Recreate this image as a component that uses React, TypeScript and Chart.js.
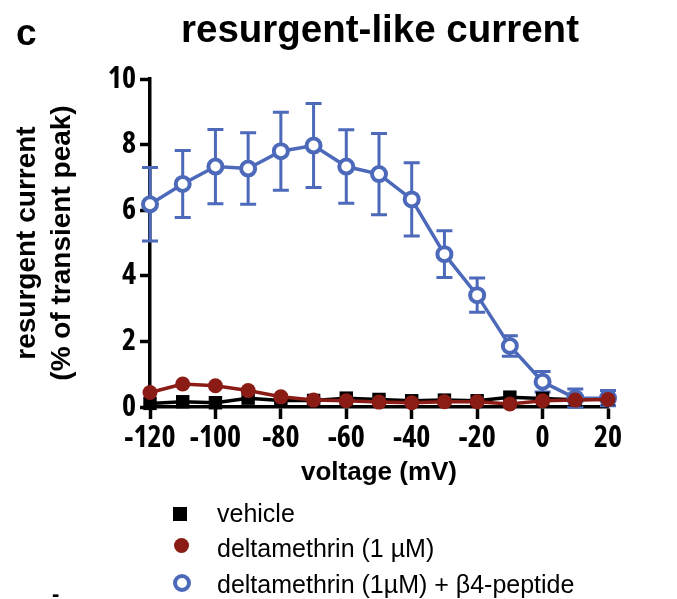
import React, { useEffect, useRef } from 'react';
import Chart from 'chart.js/auto';

const voltages = [-120, -110, -100, -90, -80, -70, -60, -50, -40, -30, -20, -10, 0, 10, 20];
const vehicle = [0.11, 0.16, 0.13, 0.27, 0.2, 0.2, 0.27, 0.23, 0.19, 0.21, 0.19, 0.3, 0.26, 0.22, 0.25];
const deltamethrin = [0.44, 0.7, 0.65, 0.5, 0.31, 0.21, 0.19, 0.15, 0.13, 0.16, 0.16, 0.09, 0.19, 0.21, 0.23];
const deltaB4 = [6.18, 6.8, 7.33, 7.27, 7.8, 7.97, 7.33, 7.1, 6.33, 4.66, 3.41, 1.86, 0.77, 0.27, 0.27];
const deltaB4Err = [1.12, 1.02, 1.13, 1.09, 1.19, 1.28, 1.12, 1.24, 1.12, 0.71, 0.52, 0.31, 0.31, 0.28, 0.23];
const seriesNames = ['vehicle', 'deltamethrin (1 µM)', 'deltamethrin (1µM) + β4-peptide'];
const chartTitle = 'resurgent-like current';
const xTitle = 'voltage (mV)';
const yTitle = ['resurgent current', '(% of transient peak)'];

const BLUE = '#4C69BA';
const RED = '#8A1C15';
const BLACK = '#000000';
const CONDENSED = "'Open Sans', 'Liberation Sans', Arial, sans-serif";
const SANS = "'Liberation Sans', Arial, Helvetica, sans-serif";

const errorBarPlugin = {
  id: 'errorBars',
  beforeDatasetsDraw(chart: any) {
    const ctx = chart.ctx;
    const xs = chart.scales.x;
    const ys = chart.scales.y;
    chart.data.datasets.forEach((ds: any, i: number) => {
      const errs = ds.errors as number[] | undefined;
      if (!errs) return;
      const meta = chart.getDatasetMeta(i);
      if (meta.hidden) return;
      ctx.save();
      ctx.strokeStyle = ds.borderColor;
      ctx.lineWidth = 3;
      ds.data.forEach((pt: any, j: number) => {
        const x = xs.getPixelForValue(pt.x);
        const yTop = ys.getPixelForValue(pt.y + errs[j]);
        const yBot = ys.getPixelForValue(pt.y - errs[j]);
        ctx.beginPath();
        ctx.moveTo(x, yTop);
        ctx.lineTo(x, yBot);
        ctx.moveTo(x - 8, yTop);
        ctx.lineTo(x + 8, yTop);
        ctx.moveTo(x - 8, yBot);
        ctx.lineTo(x + 8, yBot);
        ctx.stroke();
      });
      ctx.restore();
    });
  },
};

export default function App() {
  const canvasRef = useRef<HTMLCanvasElement | null>(null);

  useEffect(() => {
    if (!canvasRef.current) return;
    const toPts = (arr: number[]) => voltages.map((v, i) => ({ x: v, y: arr[i] }));
    const tickFont = { family: CONDENSED, size: 30, weight: 'bold condensed' };
    const chart = new Chart(canvasRef.current, {
      type: 'line',
      data: {
        datasets: [
          {
            label: seriesNames[1],
            data: toPts(deltamethrin),
            borderColor: RED,
            backgroundColor: RED,
            borderWidth: 3.5,
            pointRadius: 7.5,
            pointBorderWidth: 0,
            pointBackgroundColor: RED,
            pointStyle: 'circle',
            clip: false,
            order: 0,
          } as any,
          {
            label: seriesNames[2],
            data: toPts(deltaB4),
            errors: deltaB4Err,
            borderColor: BLUE,
            backgroundColor: '#ffffff',
            borderWidth: 3.5,
            pointRadius: 7,
            pointBorderWidth: 4,
            pointBorderColor: BLUE,
            pointBackgroundColor: '#ffffff',
            pointStyle: 'circle',
            clip: false,
            order: 1,
          } as any,
          {
            label: seriesNames[0],
            data: toPts(vehicle),
            borderColor: BLACK,
            backgroundColor: BLACK,
            borderWidth: 3.5,
            pointRadius: 9.5,
            pointBorderWidth: 0,
            pointBackgroundColor: BLACK,
            pointStyle: 'rect',
            clip: false,
            order: 2,
          } as any,
        ],
      },
      options: {
        responsive: false,
        animation: false,
        devicePixelRatio: 1,
        layout: { padding: { left: 0, top: 79, right: 69, bottom: 111 } },
        plugins: {
          legend: { display: false },
          tooltip: { enabled: false },
          title: { display: false },
        },
        scales: {
          x: {
            type: 'linear',
            min: -120,
            max: 20,
            afterFit: (s: any) => {
              s.height = 81;
            },
            ticks: { stepSize: 20, color: BLACK, font: tickFont, padding: 1, maxRotation: 0, autoSkip: false },
            grid: { drawOnChartArea: false, tickLength: 12, tickWidth: 3.5, tickColor: BLACK },
            border: { width: 3.5, color: BLACK },
            title: {
              display: true,
              text: xTitle,
              color: BLACK,
              font: { family: SANS, size: 26, weight: 'bold' },
              padding: { top: 0, bottom: 0 },
            },
          },
          y: {
            type: 'linear',
            min: 0,
            max: 10,
            afterFit: (s: any) => {
              s.width = 150;
            },
            ticks: { stepSize: 2, color: BLACK, font: tickFont, padding: 4 },
            grid: { drawOnChartArea: false, tickLength: 10, tickWidth: 3.5, tickColor: BLACK },
            border: { width: 3.5, color: BLACK },
            title: {
              display: true,
              text: yTitle,
              color: BLACK,
              font: { family: SANS, size: 28, weight: 'bold', lineHeight: 1.25 },
              padding: { top: 9.5, bottom: 0 },
            },
          },
        },
      } as any,
      plugins: [errorBarPlugin],
    });
    return () => chart.destroy();
  }, []);

  const legendText: React.CSSProperties = {
    position: 'absolute',
    left: 217,
    fontFamily: SANS,
    fontSize: 25,
    lineHeight: '25px',
    color: '#000',
    whiteSpace: 'nowrap',
  };

  return (
    <div style={{ position: 'fixed', left: 0, top: 0, width: 677, height: 599, background: '#fff', overflow: 'hidden' }}>
      <canvas ref={canvasRef} width={677} height={599} style={{ position: 'absolute', left: 0, top: 0, display: 'block' }} />
      <div style={{ position: 'absolute', left: 16, top: 14, fontFamily: SANS, fontWeight: 'bold', fontSize: 37, lineHeight: '37px', color: '#000' }}>c</div>
      <div style={{ position: 'absolute', left: 181, top: 9.5, fontFamily: SANS, fontWeight: 'bold', fontSize: 38.5, lineHeight: '38.5px', color: '#000', whiteSpace: 'nowrap' }}>
        {chartTitle}
      </div>
      <div style={{ position: 'absolute', left: 173, top: 507, width: 14, height: 14, background: BLACK }} />
      <div style={{ position: 'absolute', left: 174, top: 537.5, width: 15, height: 15, borderRadius: '50%', background: RED }} />
      <div style={{ position: 'absolute', left: 172.5, top: 574, width: 18, height: 18, boxSizing: 'border-box', borderRadius: '50%', border: `4.5px solid ${BLUE}`, background: '#fff' }} />
      <div style={{ ...legendText, top: 500.5 }}>{seriesNames[0]}</div>
      <div style={{ ...legendText, top: 535.5 }}>{seriesNames[1]}</div>
      <div style={{ ...legendText, top: 572 }}>{seriesNames[2]}</div>
      <div style={{ position: 'absolute', left: 52, top: 583, fontFamily: SANS, fontWeight: 'bold', fontSize: 22, lineHeight: '22px', color: '#000' }}>-</div>
    </div>
  );
}
